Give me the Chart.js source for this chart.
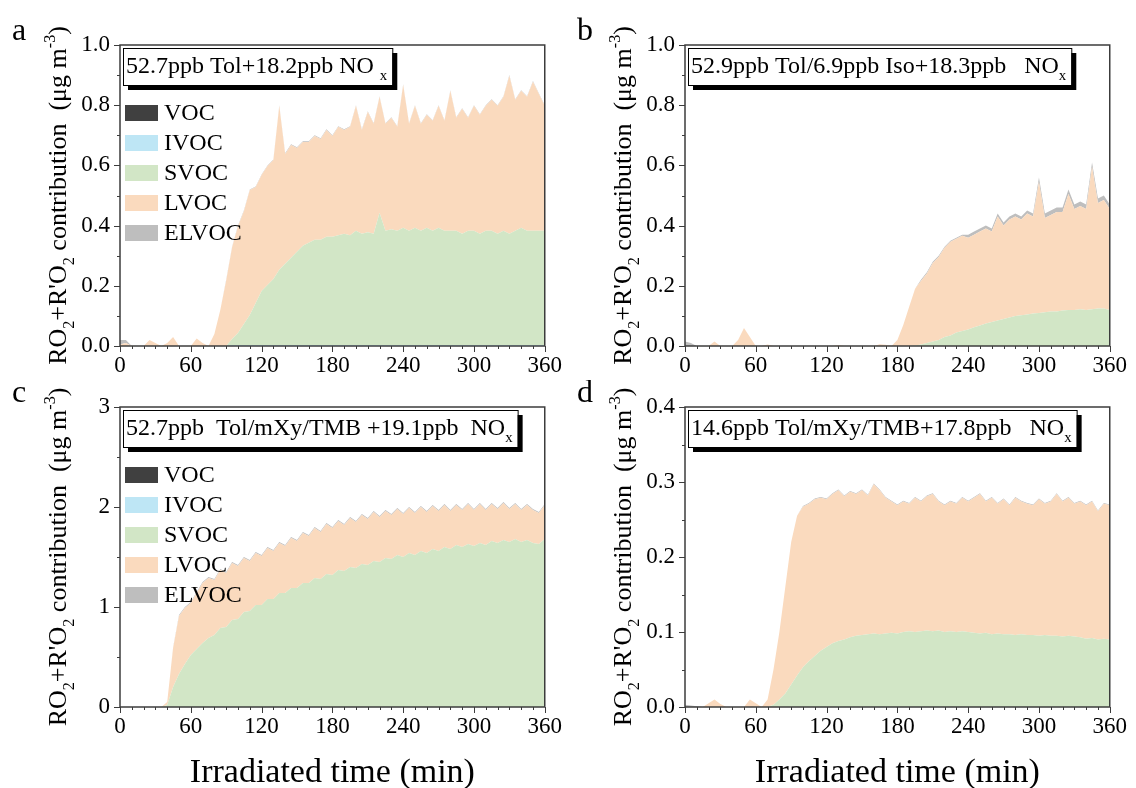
<!DOCTYPE html>
<html>
<head>
<meta charset="utf-8">
<script src="https://cdn.jsdelivr.net/npm/chart.js@4.4.0/dist/chart.umd.min.js"></script>
<style>
  body { margin: 0; background: #fff; }
  #wrap { position: relative; width: 1136px; height: 788px; }
  .panel { position: absolute; }
</style>
</head>
<body>
<div id="wrap">
  <div class="panel" style="left:0;top:0;width:568px;height:380px"><canvas id="chartA"></canvas></div>
  <div class="panel" style="left:565px;top:0;width:568px;height:380px"><canvas id="chartB"></canvas></div>
  <div class="panel" style="left:0;top:380px;width:568px;height:408px"><canvas id="chartC"></canvas></div>
  <div class="panel" style="left:565px;top:380px;width:568px;height:408px"><canvas id="chartD"></canvas></div>
</div>
<script>
// irradiated time (min), one sample every 5 min
const minutes = [
  0, 5, 10, 15, 20, 25, 30, 35, 40, 45, 50, 55,
  60, 65, 70, 75, 80, 85, 90, 95, 100, 105, 110, 115,
  120, 125, 130, 135, 140, 145, 150, 155, 160, 165, 170, 175,
  180, 185, 190, 195, 200, 205, 210, 215, 220, 225, 230, 235,
  240, 245, 250, 255, 260, 265, 270, 275, 280, 285, 290, 295,
  300, 305, 310, 315, 320, 325, 330, 335, 340, 345, 350, 355,
  360
];

const zeroSeries = [
  0, 0, 0, 0, 0, 0, 0, 0, 0, 0, 0, 0,
  0, 0, 0, 0, 0, 0, 0, 0, 0, 0, 0, 0,
  0, 0, 0, 0, 0, 0, 0, 0, 0, 0, 0, 0,
  0, 0, 0, 0, 0, 0, 0, 0, 0, 0, 0, 0,
  0, 0, 0, 0, 0, 0, 0, 0, 0, 0, 0, 0,
  0, 0, 0, 0, 0, 0, 0, 0, 0, 0, 0, 0,
  0
];

// panel a: 52.7ppb Tol + 18.2ppb NOx
const ivocA = [
  0, 0, 0, 0, 0, 0, 0, 0, 0, 0, 0, 0,
  0, 0, 0, 0, 0, 0, 0, 0.003, 0.003, 0.003, 0.003, 0.003,
  0.003, 0.003, 0.003, 0.003, 0.003, 0.003, 0.003, 0.003, 0.003, 0.003, 0.003, 0.003,
  0.003, 0.003, 0.003, 0.003, 0.003, 0.003, 0.003, 0.003, 0.003, 0.003, 0.003, 0.003,
  0.003, 0.003, 0.003, 0.003, 0.003, 0.003, 0.003, 0.003, 0.003, 0.003, 0.003, 0.003,
  0.003, 0.003, 0.003, 0.003, 0.003, 0.003, 0.003, 0.003, 0.003, 0.003, 0.003, 0.003,
  0.003
];
const svocA = [
  0, 0, 0, 0, 0, 0, 0, 0, 0, 0, 0, 0,
  0, 0, 0, 0, 0, 0, 0, 0.02, 0.04, 0.07, 0.10, 0.14,
  0.18, 0.20, 0.22, 0.25, 0.27, 0.29, 0.31, 0.33, 0.34, 0.35, 0.35, 0.36,
  0.36, 0.365, 0.37, 0.365, 0.38, 0.37, 0.375, 0.37, 0.44, 0.38, 0.385, 0.38,
  0.39, 0.38, 0.39, 0.38, 0.39, 0.38, 0.39, 0.38, 0.38, 0.38, 0.37, 0.38,
  0.38, 0.37, 0.38, 0.38, 0.37, 0.38, 0.37, 0.38, 0.39, 0.38, 0.38, 0.38,
  0.38
];
const lvocA = [
  0.005, 0.01, 0, 0, 0, 0.02, 0.01, 0, 0.01, 0.03, 0, 0,
  0, 0.025, 0.01, 0, 0.04, 0.12, 0.218, 0.305, 0.355, 0.375, 0.415, 0.385,
  0.385, 0.395, 0.395, 0.545, 0.365, 0.375, 0.345, 0.345, 0.335, 0.345, 0.335, 0.355,
  0.335, 0.36, 0.345, 0.36, 0.415, 0.345, 0.40, 0.365, 0.385, 0.355, 0.37, 0.345,
  0.475, 0.355, 0.405, 0.355, 0.375, 0.365, 0.405, 0.365, 0.465, 0.375, 0.415, 0.375,
  0.415, 0.395, 0.415, 0.435, 0.425, 0.445, 0.525, 0.435, 0.455, 0.445, 0.495, 0.455,
  0.415
];
const elvocA = [
  0.015, 0.01, 0, 0, 0, 0, 0, 0, 0, 0, 0, 0,
  0, 0, 0, 0, 0, 0, 0.002, 0.002, 0.002, 0.002, 0.002, 0.002,
  0.002, 0.002, 0.002, 0.002, 0.002, 0.002, 0.002, 0.002, 0.002, 0.002, 0.002, 0.002,
  0.002, 0.002, 0.002, 0.002, 0.002, 0.002, 0.002, 0.002, 0.002, 0.002, 0.002, 0.002,
  0.002, 0.002, 0.002, 0.002, 0.002, 0.002, 0.002, 0.002, 0.002, 0.002, 0.002, 0.002,
  0.002, 0.002, 0.002, 0.002, 0.002, 0.002, 0.002, 0.002, 0.002, 0.002, 0.002, 0.002,
  0.002
];

// panel b: 52.9ppb Tol / 6.9ppb Iso + 18.3ppb NOx
const svocB = [
  0, 0, 0, 0, 0, 0, 0, 0, 0, 0, 0, 0,
  0, 0, 0, 0, 0, 0, 0, 0, 0, 0, 0, 0,
  0, 0, 0, 0, 0, 0, 0, 0, 0, 0, 0, 0,
  0, 0, 0, 0.002, 0.005, 0.01, 0.015, 0.02, 0.03, 0.035, 0.045, 0.05,
  0.055, 0.062, 0.068, 0.075, 0.08, 0.085, 0.09, 0.095, 0.1, 0.102, 0.105, 0.108,
  0.11, 0.112, 0.115, 0.115, 0.118, 0.12, 0.12, 0.122, 0.12, 0.122, 0.125, 0.125,
  0.12
];
const lvocB = [
  0, 0, 0, 0, 0, 0.015, 0, 0, 0, 0.02, 0.06, 0.03,
  0, 0, 0.005, 0, 0, 0, 0, 0, 0, 0, 0, 0,
  0, 0, 0.003, 0, 0, 0, 0, 0, 0, 0.006, 0.004, 0,
  0.02, 0.07, 0.13, 0.188, 0.211, 0.231, 0.261, 0.276, 0.296, 0.311, 0.311, 0.316,
  0.305, 0.308, 0.312, 0.315, 0.30, 0.345, 0.31, 0.325, 0.33, 0.318, 0.335, 0.322,
  0.435, 0.313, 0.32, 0.33, 0.327, 0.385, 0.335, 0.343, 0.335, 0.473, 0.35, 0.36,
  0.335
];
const elvocB = [
  0.015, 0.01, 0, 0, 0, 0, 0, 0, 0, 0, 0, 0,
  0, 0, 0, 0, 0, 0, 0, 0, 0, 0, 0, 0,
  0, 0, 0, 0, 0, 0, 0, 0, 0, 0, 0, 0,
  0, 0, 0, 0, 0.004, 0.004, 0.004, 0.004, 0.004, 0.004, 0.004, 0.004,
  0.01, 0.01, 0.01, 0.01, 0.01, 0.01, 0.01, 0.01, 0.01, 0.01, 0.01, 0.01,
  0.015, 0.015, 0.015, 0.015, 0.015, 0.015, 0.015, 0.015, 0.015, 0.015, 0.015, 0.015,
  0.015
];

// panel c: 52.7ppb Tol/mXy/TMB + 19.1ppb NOx
const svocC = [
  0, 0, 0, 0, 0, 0, 0, 0, 0.02, 0.2, 0.33, 0.43,
  0.52, 0.58, 0.64, 0.69, 0.72, 0.79, 0.8, 0.87, 0.88, 0.95, 0.96, 1.02,
  1.02, 1.08, 1.08, 1.14, 1.14, 1.19, 1.19, 1.24, 1.24, 1.29, 1.28, 1.33,
  1.32, 1.37, 1.36, 1.4, 1.39, 1.43, 1.42, 1.46, 1.45, 1.49, 1.48, 1.52,
  1.5, 1.54, 1.52, 1.56, 1.54, 1.58, 1.56, 1.6, 1.58, 1.62, 1.6, 1.63,
  1.61, 1.64, 1.62, 1.66, 1.64, 1.67, 1.65, 1.68, 1.65, 1.67, 1.64, 1.63,
  1.68
];
const lvocC = [
  0, 0, 0, 0, 0, 0, 0, 0, 0.03, 0.39, 0.58, 0.56,
  0.52, 0.56, 0.6, 0.6, 0.55, 0.58, 0.54, 0.57, 0.53, 0.54, 0.5, 0.52,
  0.49, 0.51, 0.48, 0.5, 0.47, 0.5, 0.47, 0.5, 0.47, 0.5, 0.47, 0.5,
  0.47, 0.49, 0.46, 0.49, 0.46, 0.49, 0.46, 0.49, 0.45, 0.47, 0.44, 0.46,
  0.43, 0.45, 0.42, 0.44, 0.41, 0.43, 0.4, 0.42, 0.38, 0.4, 0.37, 0.4,
  0.36, 0.39, 0.35, 0.37, 0.34, 0.37, 0.33, 0.35, 0.32, 0.35, 0.33, 0.31,
  0.34
];
const elvocC = [
  0, 0, 0, 0, 0, 0, 0, 0, 0, 0.005, 0.01, 0.01,
  0.01, 0.01, 0.01, 0.01, 0.01, 0.01, 0.01, 0.01, 0.01, 0.01, 0.01, 0.01,
  0.01, 0.01, 0.01, 0.01, 0.01, 0.01, 0.01, 0.01, 0.01, 0.01, 0.01, 0.01,
  0.01, 0.01, 0.01, 0.01, 0.01, 0.01, 0.01, 0.01, 0.01, 0.01, 0.01, 0.01,
  0.01, 0.01, 0.01, 0.01, 0.01, 0.01, 0.01, 0.01, 0.01, 0.01, 0.01, 0.01,
  0.01, 0.01, 0.01, 0.01, 0.01, 0.01, 0.01, 0.01, 0.01, 0.01, 0.01, 0.01,
  0.01
];

// panel d: 14.6ppb Tol/mXy/TMB + 17.8ppb NOx
const svocD = [
  0, 0, 0, 0, 0, 0, 0, 0, 0, 0, 0, 0,
  0, 0, 0, 0.003, 0.01, 0.018, 0.03, 0.042, 0.053, 0.061, 0.068, 0.075,
  0.08, 0.085, 0.088, 0.09, 0.093, 0.095, 0.096, 0.097, 0.098, 0.097, 0.098, 0.099,
  0.098, 0.1, 0.101, 0.1, 0.101, 0.102, 0.101, 0.102, 0.1, 0.101, 0.1, 0.101,
  0.1, 0.099, 0.098, 0.099, 0.097, 0.098, 0.097, 0.097, 0.096, 0.097, 0.096, 0.096,
  0.095, 0.096, 0.095, 0.095, 0.094, 0.095, 0.094, 0.093, 0.091, 0.092, 0.09, 0.091,
  0.09
];
const lvocD = [
  0, 0, 0, 0, 0.005, 0.01, 0.004, 0, 0, 0, 0, 0.01,
  0.005, 0, 0.01, 0.047, 0.09, 0.142, 0.19, 0.213, 0.214, 0.21, 0.209, 0.204,
  0.197, 0.199, 0.201, 0.191, 0.194, 0.189, 0.193, 0.185, 0.199, 0.192, 0.181, 0.175,
  0.171, 0.174, 0.17, 0.179, 0.173, 0.179, 0.183, 0.172, 0.169, 0.173, 0.171, 0.178,
  0.174, 0.18, 0.186, 0.175, 0.182, 0.173, 0.18, 0.172, 0.183, 0.177, 0.175, 0.173,
  0.182, 0.175, 0.179, 0.189, 0.18, 0.184, 0.177, 0.181, 0.178, 0.182, 0.171, 0.18,
  0.179
];
const elvocD = [
  0.003, 0.002, 0.001, 0, 0, 0, 0, 0, 0, 0, 0, 0,
  0, 0, 0, 0, 0, 0, 0, 0, 0.001, 0.001, 0.001, 0.001,
  0.001, 0.001, 0.001, 0.001, 0.001, 0.001, 0.001, 0.001, 0.001, 0.001, 0.001, 0.001,
  0.001, 0.001, 0.001, 0.001, 0.001, 0.001, 0.001, 0.001, 0.001, 0.001, 0.001, 0.001,
  0.001, 0.001, 0.001, 0.001, 0.001, 0.001, 0.001, 0.001, 0.001, 0.001, 0.001, 0.001,
  0.001, 0.001, 0.001, 0.001, 0.001, 0.001, 0.001, 0.001, 0.001, 0.001, 0.001, 0.001,
  0.001
];

const classNames = ['VOC', 'IVOC', 'SVOC', 'LVOC', 'ELVOC'];
const classColors = ['#404040', '#bee6f5', '#d2e6c6', '#fadabe', '#bebebe'];

const FONT = '"Liberation Serif", "Times New Roman", serif';
const INK = '#000';
const FRAME = '#3c3c3c';

const yTitle = [
  { t: 'RO' }, { t: '2', s: 'sub' }, { t: "+R'O" }, { t: '2', s: 'sub' },
  { t: ' contribution  (\u03bcg m' }, { t: '-3', s: 'sup' }, { t: ')' }
];

const panels = [
  { id: 'chartA', letter: 'a', yMax: 1.0, yStep: 0.2, yMinor: 0.1, digits: 1, legend: true, bottom: false,
    note: [{ t: '52.7ppb Tol+18.2ppb NO ' }, { t: 'x', s: 'sub' }],
    series: [zeroSeries, ivocA, svocA, lvocA, elvocA] },
  { id: 'chartB', letter: 'b', yMax: 1.0, yStep: 0.2, yMinor: 0.1, digits: 1, legend: false, bottom: false,
    note: [{ t: '52.9ppb Tol/6.9ppb Iso+18.3ppb   NO' }, { t: 'x', s: 'sub' }],
    series: [zeroSeries, zeroSeries, svocB, lvocB, elvocB] },
  { id: 'chartC', letter: 'c', yMax: 3, yStep: 1, yMinor: 0.5, digits: 0, legend: true, bottom: true,
    note: [{ t: '52.7ppb  Tol/mXy/TMB +19.1ppb  NO' }, { t: 'x', s: 'sub' }],
    series: [zeroSeries, zeroSeries, svocC, lvocC, elvocC] },
  { id: 'chartD', letter: 'd', yMax: 0.4, yStep: 0.1, yMinor: 0.05, digits: 1, legend: false, bottom: true,
    note: [{ t: '14.6ppb Tol/mXy/TMB+17.8ppb   NO' }, { t: 'x', s: 'sub' }],
    series: [zeroSeries, zeroSeries, svocD, lvocD, elvocD] }
];

function richWidth(ctx, parts, size) {
  let w = 0;
  for (const p of parts) {
    ctx.font = (p.s ? size * 0.62 : size) + 'px ' + FONT;
    w += ctx.measureText(p.t).width;
  }
  return w;
}

function drawRich(ctx, parts, x, y, size) {
  let cx = x;
  for (const p of parts) {
    const s = p.s ? size * 0.62 : size;
    ctx.font = s + 'px ' + FONT;
    const dy = p.s === 'sub' ? size * 0.3 : (p.s === 'sup' ? -size * 0.42 : 0);
    ctx.fillText(p.t, cx, y + dy);
    cx += ctx.measureText(p.t).width;
  }
}

const decoPlugin = {
  id: 'deco',
  afterDraw(chart, args, p) {
    const ctx = chart.ctx;
    const a = chart.chartArea;
    const xs = chart.scales.x;
    const ys = chart.scales.y;
    ctx.save();

    // frame
    ctx.strokeStyle = FRAME;
    ctx.lineWidth = 1.5;
    ctx.strokeRect(a.left, a.top, a.right - a.left, a.bottom - a.top);

    // outward ticks, major and minor
    ctx.lineWidth = 1;
    ctx.beginPath();
    for (let v = 0; v <= 360; v += 10) {
      const px = Math.round(xs.getPixelForValue(v)) + 0.5;
      const len = v % 60 === 0 ? 6 : 3;
      ctx.moveTo(px, a.bottom);
      ctx.lineTo(px, a.bottom + len);
    }
    const nMinor = Math.round(p.yMax / p.yMinor);
    for (let i = 0; i <= nMinor; i++) {
      const v = i * p.yMinor;
      const py = Math.round(ys.getPixelForValue(v)) + 0.5;
      const len = i % 2 === 0 ? 6 : 3;
      ctx.moveTo(a.left, py);
      ctx.lineTo(a.left - len, py);
    }
    ctx.stroke();

    // sample note box with shadow
    ctx.fillStyle = INK;
    const noteSize = 24;
    const tw = richWidth(ctx, p.note, noteSize);
    const bx = a.left + 3, by = a.top + 3, bw = tw + 8, bh = 37;
    ctx.fillStyle = '#000';
    ctx.fillRect(bx + 5, by + 5, bw, bh);
    ctx.fillStyle = '#fff';
    ctx.fillRect(bx, by, bw, bh);
    ctx.strokeStyle = '#000';
    ctx.lineWidth = 1;
    ctx.strokeRect(bx + 0.5, by + 0.5, bw, bh);
    ctx.fillStyle = INK;
    ctx.textBaseline = 'alphabetic';
    ctx.textAlign = 'left';
    drawRich(ctx, p.note, bx + 3, by + 25, noteSize);

    // legend
    if (p.legend) {
      chart.data.datasets.forEach((ds, i) => {
        const cy = a.top + 68 + i * 30;
        ctx.fillStyle = ds.backgroundColor;
        ctx.fillRect(a.left + 5, cy - 8, 33, 16);
        ctx.fillStyle = INK;
        ctx.font = '24px ' + FONT;
        ctx.fillText(ds.label, a.left + 44, cy + 7);
      });
    }

    // y title (rotated, with sub/superscripts)
    const ts = 26;
    const yw = richWidth(ctx, yTitle, ts);
    ctx.save();
    ctx.translate(66, (a.top + a.bottom) / 2);
    ctx.rotate(-Math.PI / 2);
    ctx.fillStyle = INK;
    drawRich(ctx, yTitle, -yw / 2, 0, ts);
    ctx.restore();

    // panel letter
    ctx.fillStyle = INK;
    ctx.font = '32px ' + FONT;
    ctx.fillText(p.letter, 12, a.top - 5);

    // x title on the bottom row
    if (p.bottom) {
      ctx.font = '34px ' + FONT;
      ctx.textAlign = 'center';
      ctx.fillText('Irradiated time (min)', (a.left + a.right) / 2, a.bottom + 75);
    }
    ctx.restore();
  }
};

panels.forEach(p => {
  const datasets = p.series.map((vals, i) => ({
    label: classNames[i],
    data: vals.map((v, k) => ({ x: minutes[k], y: v })),
    backgroundColor: classColors[i],
    borderColor: classColors[i],
    borderWidth: 0,
    pointRadius: 0,
    tension: 0,
    fill: i === 0 ? 'origin' : '-1'
  }));
  const tickFont = { family: FONT, size: 23 };
  new Chart(document.getElementById(p.id), {
    type: 'line',
    data: { datasets },
    plugins: [decoPlugin],
    options: {
      responsive: true,
      maintainAspectRatio: false,
      animation: false,
      layout: { padding: { left: 0, right: 17, top: p.bottom ? 27 : 45, bottom: p.bottom ? 51 : 4 } },
      plugins: { legend: { display: false }, tooltip: { enabled: false }, deco: p },
      scales: {
        x: {
          type: 'linear', min: 0, max: 360,
          ticks: { stepSize: 60, font: tickFont, color: INK, padding: 6, maxRotation: 0 },
          grid: { display: false, drawTicks: false },
          border: { display: false },
          afterFit: s => { s.height = 30; }
        },
        y: {
          stacked: true, min: 0, max: p.yMax,
          ticks: { stepSize: p.yStep, font: tickFont, color: INK, padding: 10,
                   callback: v => Number(v).toFixed(p.digits) },
          grid: { display: false, drawTicks: false },
          border: { display: false },
          afterFit: s => { s.width = 120; }
        }
      }
    }
  });
});
</script>
</body>
</html>
